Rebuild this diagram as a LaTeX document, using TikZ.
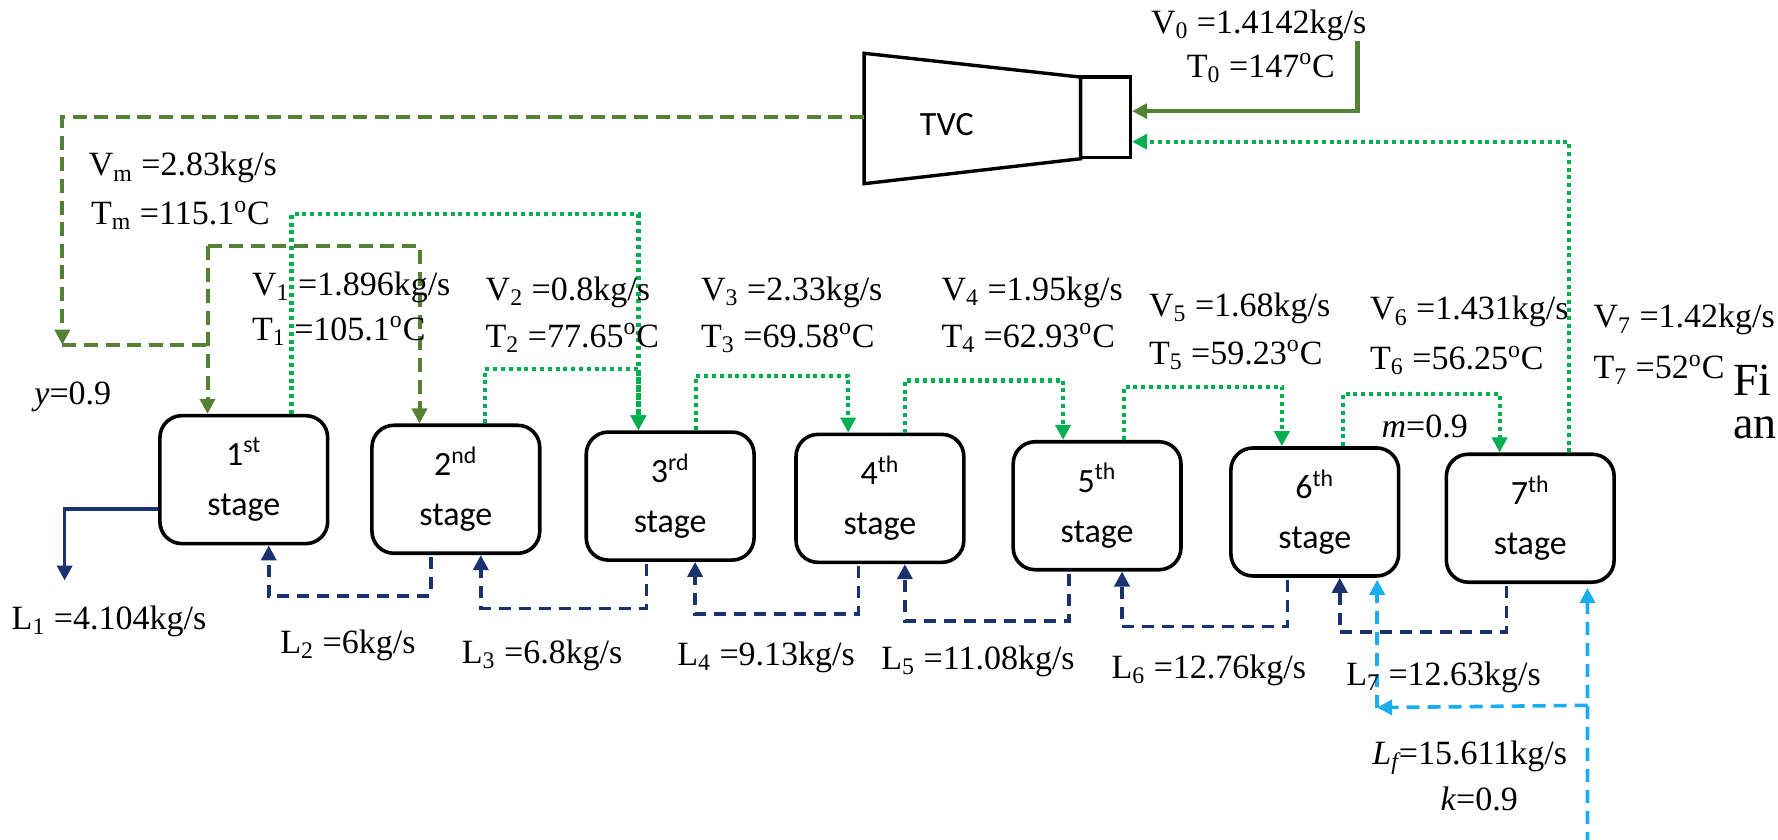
\documentclass[tikz,border=0pt]{standalone}
\usepackage{fontspec}
\setmainfont{Liberation Serif}
\newfontfamily\calfont{Carlito}
\usetikzlibrary{arrows.meta,calc}
\definecolor{olv}{HTML}{548235}
\definecolor{grn}{HTML}{00B050}
\definecolor{nvy}{HTML}{1A3270}
\definecolor{lbl}{HTML}{1AAEF0}
\begin{document}
\begin{tikzpicture}[x=0.567pt,y=-0.567pt,
  stagebox/.style={draw, line width=1.8pt, rounded corners=11pt, minimum width=83.9pt, minimum height=64pt, align=center, font=\calfont\fontsize{17}{25}\selectfont, inner sep=0pt},
  lab/.style={font=\fontsize{17}{20}\selectfont, inner sep=0pt, anchor=west},
  tip/.style={-{Triangle[width=7.5pt,length=7.5pt]}},
  olvdash/.style={olv, line width=2pt, dash pattern=on 7pt off 3.8pt},
  grndot/.style={grn, line width=2.1pt, dash pattern=on 2pt off 1.9pt},
  nvydash/.style={nvy, line width=1.8pt, dash pattern=on 6pt off 4pt},
  lbdash/.style={lbl, line width=1.8pt, dash pattern=on 6.5pt off 4pt},
]
\useasboundingbox[fill=white] (0,0) rectangle (1568,740);

% stages
\node[stagebox] (s1) at (215,423)    {1\textsuperscript{st}\\stage};
\node[stagebox] (s2) at (402,431.5)  {2\textsuperscript{nd}\\stage};
\node[stagebox] (s3) at (591,437.5)  {3\textsuperscript{rd}\\stage};
\node[stagebox] (s4) at (776,439.5)  {4\textsuperscript{th}\\stage};
\node[stagebox] (s5) at (967.5,446)  {5\textsuperscript{th}\\stage};
\node[stagebox] (s6) at (1159.5,451.5) {6\textsuperscript{th}\\stage};
\node[stagebox] (s7) at (1349.5,457) {7\textsuperscript{th}\\stage};

% TVC
\draw[line width=1.7pt] (762,47) -- (953,68) -- (953,140) -- (762,162) -- cycle;
\node[draw, line width=1.7pt, minimum width=24.9pt, minimum height=40.3pt, inner sep=0pt] (noz) at (975,103.5) {};
\node[font=\calfont\fontsize{17}{20}\selectfont, inner sep=0pt] (tvc) at (835,110) {TVC};
\coordinate (tvcL) at (762,103);

% motive steam
\coordinate (v0in) at (1197,36);
\draw[olv, line width=2.2pt, tip] (v0in) |- ($(noz.east)+(0,-5.5)$);
% entrained vapour from 7th stage
\draw[grndot, tip] ($(s7.north)+(34,0)$) |- ($(noz.east)+(0,21.5)$);

% TVC discharge
\coordinate (ymix) at (55,304);
\coordinate (vsplit) at ($(s1.north)+(-32,-148)$);
\draw[olvdash, tip] (tvcL) -| (ymix);
\draw[olvdash] (ymix) -- (ymix -| vsplit);
\draw[olvdash, tip] (vsplit) -- ($(s1.north)+(-32,0)$);
\draw[olvdash, tip] (vsplit) -| ($(s2.north)+(-32,0)$);

% vapour between stages
\draw[grndot, tip] ($(s1.north)+(42,0)$) -- ++(0,-176) -| ($(s3.north)+(-28,0)$);
\draw[grndot, tip] ($(s2.north)+(26,0)$) -- ++(0,-48) -| ($(s3.north)+(-28,0)$);
\draw[grndot, tip] ($(s3.north)+(23,0)$) -- ++(0,-48) -| ($(s4.north)+(-28,0)$);
\draw[grndot, tip] ($(s4.north)+(22,0)$) -- ++(0,-46) -| ($(s5.north)+(-30,0)$);
\draw[grndot, tip] ($(s5.north)+(24,0)$) -- ++(0,-47) -| ($(s6.north)+(-29,0)$);
\draw[grndot, tip] ($(s6.north)+(25,0)$) -- ++(0,-46) -| ($(s7.north)+(-27,0)$);

% brine
\coordinate (l1out) at (57,512);
\draw[nvy, line width=1.8pt, tip] ($(s1.west)+(0,26)$) -| (l1out);
\draw[nvydash, tip] ($(s2.south)+(-22,2)$) -- ++(0,34) -| ($(s1.south)+(22,0)$);
\draw[nvydash, tip] ($(s3.south)+(-21,2)$) -- ++(0,39) -| ($(s2.south)+(22,0)$);
\draw[nvydash, tip] ($(s4.south)+(-19,2)$) -- ++(0,42) -| ($(s3.south)+(22,0)$);
\draw[nvydash, tip] ($(s5.south)+(-25,2)$) -- ++(0,41.5) -| ($(s4.south)+(22,0)$);
\draw[nvydash, tip] ($(s6.south)+(-24,2)$) -- ++(0,41) -| ($(s5.south)+(22,0)$);
\draw[nvydash, tip] ($(s7.south)+(-21,2)$) -- ++(0,40.5) -| ($(s6.south)+(22,0)$);

% feed
\coordinate (lfin) at (1400,745);
\coordinate (lbsplit) at (1400,622);
\coordinate (lbcorner) at ($(s6.south)+(55,114.5)$);
\draw[lbdash, tip, shorten >=2pt] (lfin) -- ($(s7.south)+(50.5,0)$);
\draw[lbdash, tip] (lbsplit) -- (lbcorner);
\draw[lbdash, tip, shorten >=1pt] (lbcorner) -- ($(s6.south)+(55,0)$);

% labels
\node[lab, anchor=center] (v0) at (1110,22) {V\textsubscript{0} =1.4142kg/s};
\node[lab, anchor=center] (t0) at (1112,60) {T\textsubscript{0} =147\textsuperscript{o}C};
\node[lab] (vm) at (78,148) {V\textsubscript{m} =2.83kg/s};
\node[lab] (tm) at (80,190) {T\textsubscript{m} =115.1\textsuperscript{o}C};
\node[lab] (v1) at (222,253) {V\textsubscript{1} =1.896kg/s};
\node[lab] (t1) at (222,292) {T\textsubscript{1} =105.1\textsuperscript{o}C};
\node[lab] (v2) at (428,258) {V\textsubscript{2} =0.8kg/s};
\node[lab] (t2) at (428,298) {T\textsubscript{2} =77.65\textsuperscript{o}C};
\node[lab] (v3) at (618,258) {V\textsubscript{3} =2.33kg/s};
\node[lab] (t3) at (618,298) {T\textsubscript{3} =69.58\textsuperscript{o}C};
\node[lab] (v4) at (830,258) {V\textsubscript{4} =1.95kg/s};
\node[lab] (t4) at (830,298) {T\textsubscript{4} =62.93\textsuperscript{o}C};
\node[lab] (v5) at (1013,272) {V\textsubscript{5} =1.68kg/s};
\node[lab] (t5) at (1013,313) {T\textsubscript{5} =59.23\textsuperscript{o}C};
\node[lab] (v6) at (1208,275) {V\textsubscript{6} =1.431kg/s};
\node[lab] (t6) at (1208,318) {T\textsubscript{6} =56.25\textsuperscript{o}C};
\node[lab] (v7) at (1405,282) {V\textsubscript{7} =1.42kg/s};
\node[lab] (t7) at (1405,326) {T\textsubscript{7} =52\textsuperscript{o}C};
\node[lab, font=\fontsize{23}{26}\selectfont] (fi) at (1528,335) {Fi};
\node[lab, font=\fontsize{23}{26}\selectfont] (an) at (1528,377) {an};
\node[lab] (ylab) at (30,350) {\textit{y}=0.9};
\node[lab] (mlab) at (1218,376) {\textit{m}=0.9};
\node[lab] (l1) at (10,548) {L\textsubscript{1} =4.104kg/s};
\node[lab] (l2) at (247,569) {L\textsubscript{2} =6kg/s};
\node[lab] (l3) at (407,578) {L\textsubscript{3} =6.8kg/s};
\node[lab] (l4) at (597,580) {L\textsubscript{4} =9.13kg/s};
\node[lab] (l5) at (777,583) {L\textsubscript{5} =11.08kg/s};
\node[lab] (l6) at (980,591) {L\textsubscript{6} =12.76kg/s};
\node[lab] (l7) at (1187,597) {L\textsubscript{7} =12.63kg/s};
\node[lab] (lf) at (1210,668) {\textit{L\textsubscript{f}}=15.611kg/s};
\node[lab] (klab) at (1270,705) {\textit{k}=0.9};
\end{tikzpicture}
\end{document}
